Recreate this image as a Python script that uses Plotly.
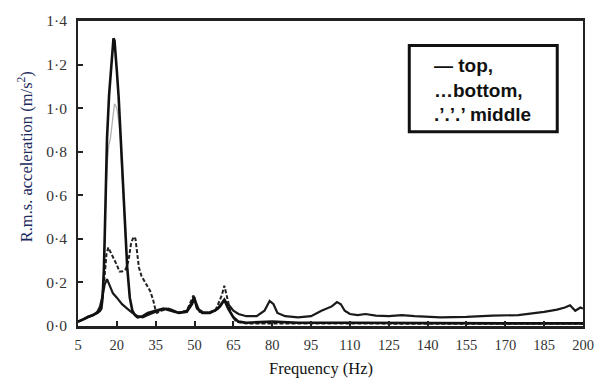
import plotly.graph_objects as go

# ---------------- data ----------------
x_tickvals = [5, 20, 35, 50, 65, 80, 95, 110, 125, 140, 155, 170, 185, 200]
y_tickvals = [0.0, 0.2, 0.4, 0.6, 0.8, 1.0, 1.2, 1.4]
y_ticktext = ["0·0", "0·2", "0·4", "0·6", "0·8", "1·0", "1·2", "1·4"]

top_f = [5, 7, 9, 11, 12.5, 13.5, 14, 14.5, 15, 15.4, 15.8, 16.2, 17, 17.8, 18.4, 18.7, 19.1, 19.5,
         20, 20.7, 21.5, 22.3, 23, 23.6, 24, 25, 26, 27, 28, 30, 32, 35, 38, 41, 44, 47,
         49, 49.8, 51, 53, 56, 59, 61.5, 63, 65, 67, 70, 80, 90, 110, 130, 150, 170, 190, 200]
top_a = [0.02, 0.03, 0.04, 0.05, 0.06, 0.07, 0.08, 0.13, 0.26, 0.45, 0.66, 0.86, 1.06, 1.19, 1.29, 1.32, 1.31, 1.26,
         1.17, 1.05, 0.86, 0.66, 0.5, 0.36, 0.27, 0.13, 0.07, 0.05, 0.04, 0.045, 0.06, 0.07, 0.08, 0.07, 0.06, 0.065,
         0.1, 0.13, 0.08, 0.06, 0.06, 0.08, 0.12, 0.08, 0.04, 0.02, 0.015, 0.02, 0.015, 0.015, 0.013, 0.014, 0.012, 0.012, 0.012]

gray_f = [5, 9, 12, 14, 15, 15.8, 16.4, 16.9, 17.5, 18.3, 19.1, 19.6, 20, 20.6, 21.3, 22, 23, 24, 25, 26, 27, 28, 30]
gray_a = [0.02, 0.04, 0.06, 0.08, 0.25, 0.62, 0.76, 0.83, 0.86, 0.95, 1.02, 1.01, 1.0, 0.95, 0.88, 0.7, 0.48, 0.27, 0.13, 0.07, 0.05, 0.04, 0.045]

middle_f = [5, 7, 9, 11, 12.5, 13.5, 14.5, 15.3, 16.2, 16.8, 17.5, 18.5, 20, 22, 24, 26, 28, 30, 32, 34, 36,
            39, 41, 44, 47, 49, 49.8, 50.5, 52, 55, 58, 60, 61.5, 63, 65, 67, 70, 74, 77, 79, 80.5, 82, 85,
            90, 95, 99, 101, 103, 105, 106.5, 108, 110, 113, 116, 120, 125, 130, 135, 145, 155, 165, 175,
            185, 190, 193, 195, 197, 199, 200]
middle_a = [0.02, 0.03, 0.045, 0.05, 0.065, 0.09, 0.14, 0.19, 0.215, 0.2, 0.18, 0.15, 0.13, 0.1, 0.08, 0.06, 0.045, 0.04, 0.05, 0.06, 0.07,
            0.08, 0.075, 0.06, 0.07, 0.11, 0.135, 0.11, 0.065, 0.06, 0.07, 0.09, 0.12, 0.1, 0.07, 0.055, 0.045, 0.045, 0.07, 0.115, 0.1, 0.06, 0.045,
            0.04, 0.045, 0.07, 0.08, 0.09, 0.11, 0.1, 0.07, 0.055, 0.05, 0.055, 0.048, 0.045, 0.05, 0.045, 0.04, 0.042, 0.048, 0.05,
            0.065, 0.075, 0.085, 0.095, 0.07, 0.085, 0.08]

bottom_f = [5, 8, 11, 13, 14, 15.2, 16, 16.7, 17.5, 19, 20, 21, 22, 23.4, 24.5, 25.5, 26.5, 27.2, 28, 28.5,
            29.5, 30.4, 31.5, 32.9, 34, 34.8, 35.5, 37, 40, 43, 47, 49.6, 51, 54, 58, 60.5, 61.5, 62.5, 64,
            66, 70, 90, 120, 150, 180, 200]
bottom_a = [0.02, 0.035, 0.05, 0.07, 0.1, 0.22, 0.33, 0.36, 0.34, 0.31, 0.28, 0.25, 0.25, 0.26, 0.3, 0.38, 0.41, 0.4, 0.33, 0.27,
            0.23, 0.21, 0.19, 0.16, 0.12, 0.08, 0.06, 0.07, 0.08, 0.06, 0.07, 0.14, 0.08, 0.06, 0.07, 0.14, 0.185, 0.14, 0.06,
            0.02, 0.012, 0.012, 0.01, 0.01, 0.01, 0.01]

legend_text = "— top,<br>…bottom,<br>.’.’.’ middle"

# ---------------- figure ----------------
fig = go.Figure()
fig.add_trace(go.Scatter(x=gray_f, y=gray_a, mode="lines",
                         line=dict(color="#b0b0b0", width=1.3), showlegend=False))
fig.add_trace(go.Scatter(x=bottom_f, y=bottom_a, mode="lines",
                         line=dict(color="#222222", width=2, dash="4px,2px"), showlegend=False))
fig.add_trace(go.Scatter(x=middle_f, y=middle_a, mode="lines",
                         line=dict(color="#1a1a1a", width=2.2), showlegend=False))
fig.add_trace(go.Scatter(x=top_f, y=top_a, mode="lines",
                         line=dict(color="#111111", width=2.6), showlegend=False))

serif = "Liberation Serif, Times New Roman, serif"

fig.update_layout(
    width=606, height=380,
    margin=dict(l=78, r=16, t=15, b=54),
    paper_bgcolor="white", plot_bgcolor="white",
    showlegend=False,
    xaxis=dict(range=[5, 200], tickvals=x_tickvals, ticks="inside", ticklen=5, tickwidth=2,
               tickcolor="#222", showline=True, linecolor="#222", linewidth=2.5, mirror=True,
               showgrid=False, zeroline=False, ticklabelstandoff=4,
               tickfont=dict(family=serif, size=14.5, color="#333")),
    yaxis=dict(range=[0, 1.4], tickvals=y_tickvals, ticktext=y_ticktext, ticks="inside", ticklen=5,
               tickwidth=1.5, tickcolor="#222", showline=True, linecolor="#222", linewidth=2, mirror=True,
               showgrid=False, zeroline=False, ticklabelstandoff=6,
               tickfont=dict(family=serif, size=15.5, color="#333")),
)

fig.add_annotation(text="R.m.s. acceleration (m/s<sup>2</sup>)", textangle=-90,
                   xref="paper", yref="paper", x=0, y=0.553, xanchor="center", yanchor="middle",
                   xshift=-53, showarrow=False,
                   font=dict(family=serif, size=16.5, color="#1c2a5c"))
fig.add_annotation(text="Frequency (Hz)", xref="paper", yref="paper", x=0.482, y=0,
                   xanchor="center", yanchor="middle", yshift=-42, showarrow=False,
                   font=dict(family=serif, size=16.5, color="#111"))

# legend box (drawn as a shape) and its text
fig.add_shape(type="rect", xref="paper", yref="paper", x0=0.656, x1=0.949, y0=0.637, y1=0.920,
              line=dict(color="#111", width=3), fillcolor="white", layer="above")
fig.add_annotation(text=legend_text, xref="paper", yref="paper", x=0.701, y=0.775,
                   xanchor="left", yanchor="middle", align="left", showarrow=False,
                   font=dict(family="Liberation Sans, Arial, sans-serif", size=19, color="#111",
                             weight="bold"))

fig.write_html("out.html")
